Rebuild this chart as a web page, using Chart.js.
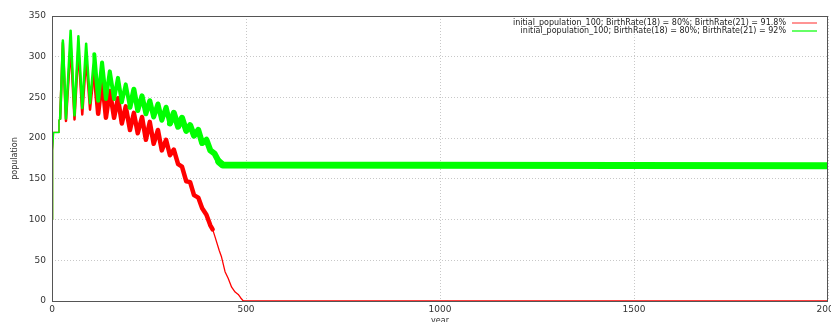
<!DOCTYPE html>
<html>
<head>
<meta charset="utf-8">
<script src="https://cdn.jsdelivr.net/npm/chart.js@4.4.1/dist/chart.umd.min.js"></script>
<style>
  html, body { margin: 0; padding: 0; background: #fff; }
  #wrap { width: 831px; height: 322px; }
</style>
</head>
<body>
<div id="wrap"><canvas id="c" width="831" height="322"></canvas></div>
<script>
// values (midline of each band)
var redLabel = 'initial_population_100; BirthRate(18) = 80%; BirthRate(21) = 91.8%';
var greenLabel = 'initial_population_100; BirthRate(18) = 80%; BirthRate(21) = 92%';

var redYears = [0, 1, 2, 4, 16, 18, 21, 24, 28, 36, 48, 58, 68, 78, 88, 98, 109, 119, 129, 139,
  149, 160, 170, 180, 190, 201, 211, 221, 232, 242, 252, 262, 273, 283, 294, 304, 314, 325, 335, 346,
  356, 366, 377, 387, 398, 408, 414, 420, 431, 437, 446, 454, 463, 472, 480, 486, 493, 2000];
var redPop = [100, 140, 185, 207, 207, 222, 224, 262, 317, 221, 315, 223, 311, 229, 299, 235, 285, 230, 273, 225,
  258, 225, 249, 218, 239, 210, 231, 206, 226, 198, 220, 193, 210, 185, 198, 179, 186, 168, 165, 147,
  146, 130, 127, 114, 106, 93, 88, 79, 62, 54, 36, 28, 17, 11, 8, 4, 0, 0];

var greenYears = [0, 1, 2, 4, 16, 18, 21, 24, 28, 36, 48, 58, 68, 78, 88, 98, 109, 119, 129, 139,
  149, 160, 170, 180, 190, 201, 211, 221, 232, 242, 252, 262, 273, 283, 294, 304, 314, 325, 335, 346,
  356, 366, 377, 387, 398, 408, 419, 430, 440, 2000];
var greenPop = [100, 140, 185, 207, 207, 222, 224, 262, 320, 224, 332, 228, 325, 237, 316, 243, 303, 246, 293, 248,
  282, 248, 274, 244, 266, 238, 260, 234, 252, 230, 246, 226, 242, 222, 238, 218, 231, 214, 225, 209,
  216, 203, 210, 194, 198, 185, 181, 171, 167, 166];

var xTicks = [0, 500, 1000, 1500, 2000];
var yTicks = [0, 50, 100, 150, 200, 250, 300, 350];

var RED = '#ff0000';
var GREEN = '#00ff00';
var FONT = 'DejaVu Sans';

function toPoints(xs, ys) {
  var pts = [];
  for (var i = 0; i < xs.length; i++) pts.push({x: xs[i], y: ys[i]});
  return pts;
}

// band gets thicker as the yearly jitter grows
function greenWidth(c) {
  var x = c.p0.parsed.x;
  if (x < 21) return 1.5;
  if (x < 100) return 2.5;
  if (x < 200) return 4;
  if (x < 300) return 5;
  if (x < 430) return 6;
  return 7;
}
function redWidth(c) {
  var x = c.p0.parsed.x;
  if (x < 21 || x >= 412) return 1.3;
  if (x < 100) return 2.5;
  return 4.5;
}

// frame round the plot + legend inside top right, gnuplot style
var framePlugin = {
  id: 'frame',
  afterDraw: function (chart) {
    var ctx = chart.ctx, a = chart.chartArea;
    ctx.save();
    ctx.setLineDash([]);
    ctx.strokeStyle = '#555';
    ctx.lineWidth = 1;
    ctx.strokeRect(Math.round(a.left) + 0.5, Math.round(a.top) + 0.5,
      Math.round(a.right - a.left) - 1, Math.round(a.bottom - a.top));
    // legend
    var items = [[redLabel, '#ff7070'], [greenLabel, '#33ff33']];
    ctx.font = '8px "' + FONT + '"';
    ctx.textAlign = 'right';
    ctx.textBaseline = 'middle';
    for (var i = 0; i < items.length; i++) {
      var y = 23 + i * 8;
      ctx.fillStyle = '#222';
      ctx.fillText(items[i][0], 786, y);
      ctx.strokeStyle = items[i][1];
      ctx.lineWidth = 1.5;
      ctx.beginPath();
      ctx.moveTo(792, y);
      ctx.lineTo(817, y);
      ctx.stroke();
    }
    ctx.restore();
  }
};

new Chart(document.getElementById('c'), {
  type: 'line',
  data: {
    datasets: [
      {
        label: greenLabel,
        data: toPoints(greenYears, greenPop),
        borderColor: GREEN,
        borderWidth: 6,
        borderJoinStyle: 'round',
        borderCapStyle: 'round',
        pointRadius: 0,
        order: 0,
        segment: { borderWidth: greenWidth }
      },
      {
        label: redLabel,
        data: toPoints(redYears, redPop),
        borderColor: RED,
        borderWidth: 4.5,
        borderJoinStyle: 'round',
        borderCapStyle: 'round',
        pointRadius: 0,
        order: 1,
        segment: { borderWidth: redWidth }
      }
    ]
  },
  options: {
    responsive: false,
    animation: false,
    layout: { padding: { top: 16, right: 3, left: 0, bottom: 0 } },
    plugins: { legend: { display: false }, tooltip: { enabled: false } },
    scales: {
      x: {
        type: 'linear',
        min: 0, max: 2000,
        afterBuildTicks: function (s) { s.ticks = xTicks.map(function (v) { return {value: v}; }); },
        afterFit: function (s) { s.height = 21; s.paddingLeft = 0; s.paddingRight = 0; },
        grid: { color: '#c8c8c8', drawTicks: false },
        border: { display: false, dash: [1, 2] },
        ticks: {
          padding: 3, color: '#333', font: { family: FONT, size: 9 }, maxRotation: 0,
          callback: function (v) { return String(v); }
        },
        title: { display: true, text: 'year', color: '#333', font: { family: FONT, size: 8 }, padding: { top: 0, bottom: -4 } }
      },
      y: {
        min: 0, max: 350,
        afterBuildTicks: function (s) { s.ticks = yTicks.map(function (v) { return {value: v}; }); },
        afterFit: function (s) { s.width = 52; },
        grid: { color: '#c8c8c8', drawTicks: false },
        border: { display: false, dash: [1, 2] },
        ticks: { padding: 6, color: '#333', font: { family: FONT, size: 9 } },
        title: { display: true, text: 'population', color: '#333', font: { family: FONT, size: 8 }, padding: { top: 10, bottom: 0 } }
      }
    }
  },
  plugins: [framePlugin]
});
</script>
</body>
</html>
